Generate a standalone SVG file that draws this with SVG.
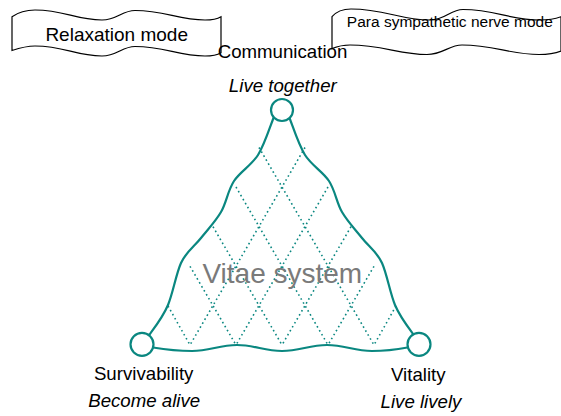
<svg xmlns="http://www.w3.org/2000/svg" width="561" height="416" viewBox="0 0 561 416">
<style>
.box{fill:#fff;stroke:#000;stroke-width:1.2}
.lbl{font-family:"Liberation Sans",Arial,sans-serif;font-size:18.67px;fill:#000;text-anchor:middle}
.it{font-style:italic}
.edge{fill:none;stroke:#0a8780;stroke-width:2.2;stroke-linecap:round}
.net{fill:none;stroke:#0a8780;stroke-width:1.6;stroke-dasharray:1.6 3}
.node{fill:#fff;stroke:#0a8780;stroke-width:2.2}
</style>
<rect width="561" height="416" fill="#fff"/>
<g id="relaxation-mode">
<path class="box" d="M12,16.7 C18,12.5 27,10 35,10 C65,10 75,20 102,20 C117,20 122,10.5 135,10.5 C165,10.5 178,20 205,20 C213,20 218,18.5 221,16.7 L221,52.7 C218,54.5 213,56 205,56 C178,56 165,46.5 135,46.5 C122,46.5 117,56 102,56 C75,56 65,46 35,46 C27,46 18,48.5 12,50.5 Z"/>
<text class="lbl" x="116.7" y="40.7" style="font-size:19px">Relaxation mode</text>
</g>
<g id="para-sympathetic-mode">
<path class="box" d="M332,16.7 C336,12 343,9 351,9 C385,9 400,20 430,20 C446,20 450,9.5 463,9.5 C495,9.5 510,20 540,20 C550,20 556,18.5 561,16.7 L561,51 C556,53 550,54.5 539,54.5 C510,54.5 494,45 462,45 C449,45 443,54.5 427,54.5 C400,54.5 382,45 350,45 C342,45 337,46.5 332,48.5 Z"/>
<text class="lbl" x="449.8" y="27.3" style="font-size:15.5px">Para sympathetic nerve mode</text>
</g>
<g id="connectors">
<path class="edge" d="M273.5,118 C270.9,124.2 264.6,144.5 258,155 C251.4,165.5 240.2,171.5 234,181 C227.8,190.5 226.5,202.5 221,212 C215.5,221.5 207.7,229.5 201,238 C194.3,246.5 186,251.8 181,263 C176,274.2 173,293 168,305 C163,317 153.1,329.6 149.5,334.5"/>
<path class="edge" d="M289.5,118 C292.1,124.2 298.4,144.5 305,155 C311.6,165.5 322.8,171.5 329,181 C335.2,190.5 336.5,202.5 342,212 C347.5,221.5 355.3,229.5 362,238 C368.7,246.5 377,251.8 382,263 C387,274.2 390,293 395,305 C400,317 409.9,329.6 413.5,334.5"/>
<path class="edge" d="M153,347.5 C165,349.5 178,351 192,351 C210,351 219,345 237,345 C255,345 264,351 282,351 C300,351 309,345 327,345 C345,345 354,351 372,351 C386,351 397,349.5 407.5,347.5"/>
<g class="net">
<path d="M259,147.5 L374,345 M236,187 L328,345 M213,226.7 L282,345 M190,266.3 L236,345 M168,306 L190,345"/>
<path d="M305,147.5 L190,345 M328,187 L236,345 M351,226.7 L282,345 M374,266.3 L328,345 M396,306 L374,345"/>
</g>
</g>
<text x="282.3" y="283" style="font-family:'Liberation Sans',Arial,sans-serif;font-size:28px;fill:#7a7a7a;text-anchor:middle">Vitae system</text>
<g id="communication">
<circle class="node" cx="282" cy="110" r="11"/>
<text class="lbl" x="282.5" y="57.7">Communication</text>
<text class="lbl it" x="282.8" y="91.7">Live together</text>
</g>
<g id="survivability">
<circle class="node" cx="142" cy="344.3" r="11.5"/>
<text class="lbl" x="143.7" y="380">Survivability</text>
<text class="lbl it" x="144.2" y="406.5">Become alive</text>
</g>
<g id="vitality">
<circle class="node" cx="419" cy="344.3" r="11.5"/>
<text class="lbl" x="418.3" y="381">Vitality</text>
<text class="lbl it" x="421" y="407.5">Live lively</text>
</g>
</svg>
